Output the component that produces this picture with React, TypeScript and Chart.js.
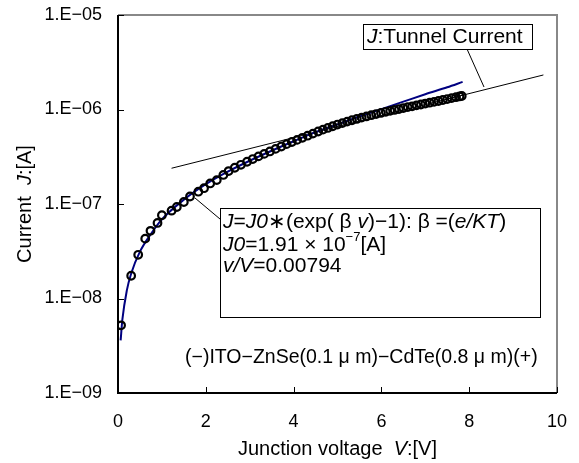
import React, { useEffect, useRef } from "react";
import { Chart, registerables } from "chart.js";

Chart.register(...registerables);

// Measured data: junction voltage V [V] and current J [A]
const dataV = [0.07, 0.3, 0.46, 0.62, 0.74, 0.9, 1.0, 1.22, 1.34, 1.5, 1.64, 1.83, 1.96, 2.1, 2.25, 2.4, 2.52, 2.66, 2.8, 2.94, 3.07, 3.2, 3.33, 3.46, 3.59, 3.72, 3.84, 3.96, 4.08, 4.2, 4.32, 4.44, 4.56, 4.67, 4.78, 4.89, 5.0, 5.11, 5.22, 5.33, 5.44, 5.55, 5.66, 5.77, 5.88, 5.99, 6.1, 6.2, 6.3, 6.4, 6.5, 6.6, 6.7, 6.8, 6.9, 7.0, 7.1, 7.2, 7.3, 7.4, 7.5, 7.6, 7.7, 7.78, 7.83];
const dataJ = [5.2e-9, 1.74e-8, 2.9e-8, 4.3e-8, 5.2e-8, 6.3e-8, 7.6e-8, 8.5e-8, 9.3e-8, 1.05e-7, 1.2e-7, 1.35e-7, 1.47e-7, 1.65e-7, 1.79e-7, 2.03e-7, 2.23e-7, 2.42e-7, 2.6e-7, 2.8e-7, 2.99e-7, 3.19e-7, 3.39e-7, 3.6e-7, 3.83e-7, 4.06e-7, 4.3e-7, 4.53e-7, 4.77e-7, 5.02e-7, 5.28e-7, 5.56e-7, 5.85e-7, 6.12e-7, 6.38e-7, 6.65e-7, 6.93e-7, 7.18e-7, 7.44e-7, 7.7e-7, 7.95e-7, 8.2e-7, 8.45e-7, 8.7e-7, 8.95e-7, 9.2e-7, 9.45e-7, 9.68e-7, 9.9e-7, 1.01e-6, 1.035e-6, 1.06e-6, 1.08e-6, 1.105e-6, 1.13e-6, 1.155e-6, 1.18e-6, 1.205e-6, 1.23e-6, 1.26e-6, 1.29e-6, 1.32e-6, 1.35e-6, 1.375e-6, 1.39e-6];

// Fitted curve J = J0*(exp(beta v)-1)
const fitV = [0.06, 0.1, 0.2, 0.3, 0.5, 0.75, 1.0, 1.5, 2.0, 2.5, 3.0, 3.5, 4.0, 4.5, 5.0, 5.5, 6.0, 6.5, 7.0, 7.5, 7.85];
const fitJ = [3.6e-9, 6.0e-9, 1.21e-8, 1.84e-8, 3.13e-8, 4.82e-8, 6.87e-8, 1.11e-7, 1.62e-7, 2.2e-7, 2.87e-7, 3.66e-7, 4.61e-7, 5.76e-7, 6.95e-7, 8.43e-7, 1.01e-6, 1.21e-6, 1.45e-6, 1.72e-6, 1.96e-6];

// Tunnel current straight line (on log scale)
const tunnelV = [1.22, 9.69];
const tunnelJ = [2.39e-7, 2.32e-6];

const xTicks = [0, 2, 4, 6, 8, 10];
const yTicks = [1e-9, 1e-8, 1e-7, 1e-6, 1e-5];

const FONT = '"Liberation Sans", Arial, sans-serif';

type Run = { t: string; i?: boolean; sup?: boolean };

function runsWidth(ctx: CanvasRenderingContext2D, runs: Run[], size: number) {
  let w = 0;
  for (const r of runs) {
    const s = r.sup ? Math.round(size * 0.6) : size;
    ctx.font = `${r.i ? "italic " : ""}${s}px ${FONT}`;
    w += ctx.measureText(r.t).width;
  }
  return w;
}

function drawRuns(ctx: CanvasRenderingContext2D, x: number, y: number, runs: Run[], size: number) {
  ctx.textBaseline = "middle";
  ctx.textAlign = "left";
  ctx.fillStyle = "#000";
  for (const r of runs) {
    const s = r.sup ? Math.round(size * 0.6) : size;
    ctx.font = `${r.i ? "italic " : ""}${s}px ${FONT}`;
    ctx.fillText(r.t, x, r.sup ? y - size * 0.36 : y);
    x += ctx.measureText(r.t).width;
  }
}

const decorPlugin = {
  id: "decor",
  afterDraw(chart: any) {
    const ctx: CanvasRenderingContext2D = chart.ctx;
    const { left, right, top, bottom } = chart.chartArea;
    const xs = chart.scales.x;
    const ys = chart.scales.y;
    ctx.save();
    // frame: top/right gray, left/bottom black
    ctx.lineWidth = 2;
    ctx.strokeStyle = "#888";
    ctx.beginPath();
    ctx.moveTo(left, top);
    ctx.lineTo(right, top);
    ctx.lineTo(right, bottom);
    ctx.stroke();
    ctx.strokeStyle = "#000";
    ctx.beginPath();
    ctx.moveTo(left, top);
    ctx.lineTo(left, bottom);
    ctx.lineTo(right, bottom);
    ctx.stroke();
    // inside tick marks
    ctx.lineWidth = 1;
    ctx.beginPath();
    for (const v of yTicks) {
      const y = Math.round(ys.getPixelForValue(v)) + 0.5;
      ctx.moveTo(left, y);
      ctx.lineTo(left + 6, y);
    }
    for (const v of xTicks) {
      const x = Math.round(xs.getPixelForValue(v)) + 0.5;
      ctx.moveTo(x, bottom);
      ctx.lineTo(x, bottom - 6);
    }
    ctx.stroke();

    // axis titles
    const tsize = 20;
    const xt: Run[] = [{ t: "Junction voltage  " }, { t: "V", i: true }, { t: ":[V]" }];
    const xw = runsWidth(ctx, xt, tsize);
    drawRuns(ctx, (left + right) / 2 - xw / 2, 449, xt, tsize);
    const yt: Run[] = [{ t: "Current  " }, { t: "J", i: true }, { t: ":[A]" }];
    const yw = runsWidth(ctx, yt, tsize);
    ctx.save();
    ctx.translate(25, (top + bottom) / 2);
    ctx.rotate(-Math.PI / 2);
    drawRuns(ctx, -yw / 2, 0, yt, tsize);
    ctx.restore();

    const size = 21;
    // Tunnel current label box
    ctx.strokeStyle = "#000";
    ctx.lineWidth = 1;
    ctx.beginPath();
    ctx.moveTo(467, 49);
    ctx.lineTo(484, 87);
    ctx.stroke();
    ctx.fillStyle = "#fff";
    ctx.fillRect(363, 24, 169, 25);
    ctx.strokeRect(363.5, 24.5, 169, 25);
    drawRuns(ctx, 367, 37, [{ t: "J", i: true }, { t: ":Tunnel Current" }], size);

    // Formula box
    ctx.beginPath();
    ctx.moveTo(195, 198);
    ctx.lineTo(220, 219);
    ctx.stroke();
    ctx.fillStyle = "#fff";
    ctx.fillRect(220, 208, 320, 109);
    ctx.strokeRect(220.5, 208.5, 320, 109);
    drawRuns(ctx, 223, 222, [
      { t: "J", i: true }, { t: "=" }, { t: "J0", i: true }, { t: "∗(exp( β " }, { t: "v", i: true },
      { t: ")−1): β =(" }, { t: "e/KT", i: true }, { t: ")" },
    ], size);
    drawRuns(ctx, 223, 245, [
      { t: "J0", i: true }, { t: "=1.91 × 10" }, { t: "−7", sup: true }, { t: "[A]" },
    ], size);
    drawRuns(ctx, 223, 266, [{ t: "v/V", i: true }, { t: "=0.00794" }], size);

    // sample description
    drawRuns(ctx, 185, 358, [{ t: "(−)ITO−ZnSe(0.1 μ m)−CdTe(0.8 μ m)(+)" }], 19.5);
    ctx.restore();
  },
};

export default function App() {
  const ref = useRef<HTMLCanvasElement | null>(null);
  useEffect(() => {
    document.body.style.margin = "0";
    const cv = ref.current!;
    const chart = new Chart(cv, {
      type: "scatter",
      data: {
        datasets: [
          {
            label: "data",
            data: dataV.map((v, i) => ({ x: v, y: dataJ[i] })),
            showLine: false,
            pointStyle: "circle",
            pointRadius: 3.8,
            pointBorderWidth: 2.2,
            pointBorderColor: "#000",
            pointBackgroundColor: "rgba(0,0,0,0)",
          },
          {
            label: "fit",
            data: fitV.map((v, i) => ({ x: v, y: fitJ[i] })),
            showLine: true,
            borderColor: "#000080",
            borderWidth: 2,
            pointRadius: 0,
            cubicInterpolationMode: "monotone",
          },
          {
            label: "tunnel",
            data: tunnelV.map((v, i) => ({ x: v, y: tunnelJ[i] })),
            showLine: true,
            borderColor: "#000",
            borderWidth: 1,
            pointRadius: 0,
          },
        ],
      },
      options: {
        responsive: false,
        devicePixelRatio: 1,
        animation: false,
        layout: { padding: { left: 0, right: 22, top: 15, bottom: 0 } },
        plugins: { legend: { display: false }, tooltip: { enabled: false } },
        scales: {
          x: {
            type: "linear",
            min: 0,
            max: 10,
            grid: { display: false, drawTicks: false },
            border: { display: false },
            afterBuildTicks: (s: any) => { s.ticks = xTicks.map((v) => ({ value: v })); },
            afterFit: (s: any) => { s.height = 70; s.paddingLeft = 0; s.paddingRight = 0; },
            ticks: { color: "#000", padding: 18, font: { family: FONT, size: 18 } },
          },
          y: {
            type: "logarithmic",
            min: 1e-9,
            max: 1e-5,
            grid: { display: false, drawTicks: false },
            border: { display: false },
            afterBuildTicks: (s: any) => { s.ticks = yTicks.map((v) => ({ value: v })); },
            afterFit: (s: any) => { s.width = 118; s.paddingTop = 0; s.paddingBottom = 0; },
            ticks: {
              color: "#000",
              padding: 16,
              font: { family: FONT, size: 18 },
              callback: (v: any) => "1.E−0" + Math.round(-Math.log10(Number(v))),
            },
          },
        },
      },
      plugins: [decorPlugin],
    } as any);
    return () => chart.destroy();
  }, []);
  return (
    <div style={{ position: "absolute", left: 0, top: 0, width: 579, height: 463, background: "#fff" }}>
      <canvas ref={ref} width={579} height={463} style={{ width: 579, height: 463 }} />
    </div>
  );
}
